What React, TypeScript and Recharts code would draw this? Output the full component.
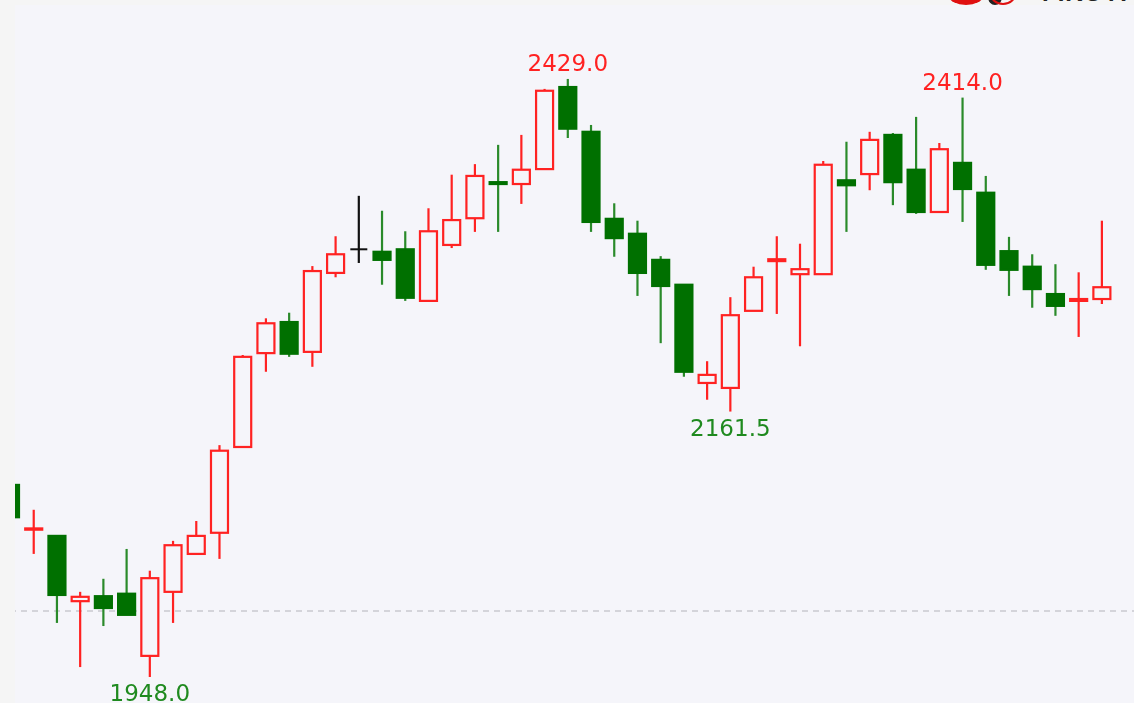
import React from 'react';
import { ComposedChart, Bar, XAxis, YAxis, CartesianGrid } from 'recharts';

const opens = [2102.5, 2066.5, 2061.5, 2009, 2013, 2015, 1965, 2016.5, 2047, 2064, 2133, 2208.5, 2233.5, 2209.5, 2273, 2292, 2290, 2292, 2250.5, 2295.5, 2317, 2346, 2344.5, 2356.5, 2422.5, 2386.5, 2316.5, 2304.5, 2283.5, 2263.5, 2184.5, 2180.5, 2242.5, 2282.5, 2272, 2272, 2347.5, 2352.5, 2384, 2356, 2322, 2361.5, 2337.5, 2290.5, 2278, 2256, 2250.5, 2252];
const highs = [2102.5, 2082.5, 2061.5, 2016.5, 2027, 2051, 2033.5, 2057.5, 2073.5, 2134.5, 2207, 2236.5, 2241, 2278.5, 2302.5, 2335, 2323, 2306.5, 2325, 2352, 2360.5, 2376, 2384, 2421, 2429, 2392, 2329, 2315, 2286.5, 2263.5, 2202, 2253.5, 2278, 2302.5, 2296.5, 2363, 2378.5, 2386.5, 2385.5, 2398.5, 2377.5, 2414, 2351, 2302, 2288, 2280, 2273.5, 2315];
const lows = [2076.5, 2047, 1991.5, 1956, 1989, 1998, 1948, 1991.5, 2047, 2043, 2133, 2193.5, 2205.5, 2197.5, 2269.5, 2281, 2263.5, 2250.5, 2250.5, 2293, 2306, 2306, 2328.5, 2356.5, 2381.5, 2306, 2286, 2254.5, 2216.5, 2189.5, 2171, 2161.5, 2242.5, 2240, 2214, 2272, 2306, 2339.5, 2327.5, 2320.5, 2322, 2314, 2275.5, 2254.5, 2245, 2238.5, 2221.5, 2248];
const closes = [2076.5, 2067.5, 2014, 2012.5, 2003.5, 1998, 2027.5, 2054, 2061.5, 2130, 2205.5, 2232.5, 2208, 2274.5, 2288, 2292, 2283.5, 2253, 2306.5, 2315.5, 2351, 2344.5, 2356, 2419.5, 2389, 2314, 2301, 2273, 2262.5, 2193.5, 2191, 2239, 2269.5, 2284, 2276, 2360, 2343.5, 2380, 2346, 2322, 2372.5, 2340.5, 2279.5, 2275.5, 2260, 2246.5, 2252, 2261.5];

// candles that carry a price label
const highLabels = [24, 41];
const lowLabels = [6, 31];
const lastPrice = 2001;

const UP = '#ff2222';
const DOWN = '#007000';
const DOWN_WICK = '#2a8a2a';
const BG = '#f5f5fa';

const data = opens.map((open, i) => ({
  day: i,
  open,
  high: highs[i],
  low: lows[i],
  close: closes[i],
}));

const Candle = (props: any) => {
  const { x, y, width, height, payload } = props;
  const { open, high, low, close, day } = payload;
  const top = Math.min(y, y + height);
  const perUnit = Math.abs(height) / (high - low);
  const bodyTop = top + (high - Math.max(open, close)) * perUnit;
  const bodyH = Math.abs(open - close) * perUnit;
  const cx = x + width / 2;
  const flat = open === close;
  const up = close > open;
  const wickColor = flat ? '#111' : up ? UP : DOWN_WICK;

  return (
    <g>
      <line x1={cx} x2={cx} y1={top} y2={top + Math.abs(height)} stroke={wickColor} strokeWidth={2.2} />
      {flat ? (
        <line x1={x} x2={x + width} y1={bodyTop} y2={bodyTop} stroke="#111" strokeWidth={2} />
      ) : (
        <rect
          x={x}
          y={bodyTop}
          width={width}
          height={bodyH}
          fill={up ? BG : DOWN}
          stroke={up ? UP : DOWN}
          strokeWidth={2.2}
        />
      )}
      {highLabels.includes(day) && (
        <text x={cx} y={top - 8} textAnchor="middle" fontSize={23} fontFamily="DejaVu Sans" fill={UP}>
          {high.toFixed(1)}
        </text>
      )}
      {lowLabels.includes(day) && (
        <text x={cx} y={top + Math.abs(height) + 24} textAnchor="middle" fontSize={23} fontFamily="DejaVu Sans" fill="#1f8a1f">
          {low.toFixed(1)}
        </text>
      )}
    </g>
  );
};

const App = () => (
  <div style={{ position: 'absolute', left: 0, top: 0, width: 1134, height: 703, overflow: 'hidden', background: BG }}>
    <div style={{ position: 'absolute', left: -1.33, top: 0, filter: 'blur(0.4px)' }}>
      <ComposedChart width={1140} height={703} data={data} margin={{ top: 0, right: 0, bottom: 0, left: 0 }}>
        <XAxis dataKey="day" hide padding={{ left: 0, right: 25.4 }} />
        <YAxis hide domain={[1927.1, 2492.5]} allowDataOverflow />
        <CartesianGrid vertical={false} horizontalValues={[lastPrice]} stroke="#c9c9cf" strokeDasharray="6 5" strokeWidth={1.5} />
        <Bar dataKey={(d: any) => [d.low, d.high]} barSize={17} shape={Candle} isAnimationActive={false} />
      </ComposedChart>
    </div>

    {/* page margin left of the chart and the cropped header above it */}
    <div style={{ position: 'absolute', left: 0, top: 0, width: 15, height: 703, background: '#f5f5f5' }} />
    <div style={{ position: 'absolute', left: 0, top: 0, width: 1134, height: 5, background: '#f5f5f5', overflow: 'hidden' }}>
      <svg width={1134} height={5} style={{ position: 'absolute', left: 0, top: 0 }}>
        <ellipse cx={966} cy={-4} rx={17} ry={9} fill="#e01010" />
        <ellipse cx={995} cy={-3} rx={7} ry={8} fill="#222" />
        <ellipse cx={1003} cy={-8} rx={13} ry={12} fill="none" stroke="#e01010" strokeWidth={2} />
      </svg>
      <div
        style={{
          position: 'absolute',
          left: 1042,
          bottom: 0,
          fontFamily: 'Liberation Sans',
          fontWeight: 700,
          fontSize: 24,
          letterSpacing: 1,
          lineHeight: '24px',
          color: '#222',
          whiteSpace: 'nowrap',
        }}
      >
        FIKOYI
      </div>
    </div>
  </div>
);

export default App;
